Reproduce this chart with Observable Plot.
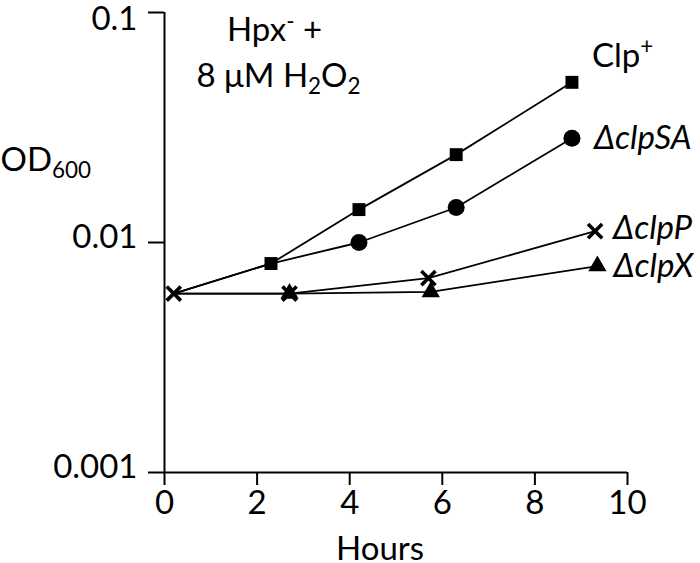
<!DOCTYPE html>
<html><head><meta charset="utf-8">
<script src="https://cdn.jsdelivr.net/npm/d3@7"></script>
<script src="https://cdn.jsdelivr.net/npm/@observablehq/plot@0.6"></script>
<style>body{margin:0;background:#fff;}</style>
</head><body><div id="chart"></div>
<script>
// ---- data ----
const seriesNames = ["Clp+", "ΔclpSA", "ΔclpP", "ΔclpX"];
const clpPlusHours = [0.2, 2.3, 4.2, 6.3, 8.8];
const clpPlusOD    = [0.006, 0.0081, 0.0139, 0.0241, 0.0497];
const clpSAHours   = [0.2, 2.3, 4.2, 6.3, 8.8];
const clpSAOD      = [0.006, 0.0081, 0.0100, 0.0142, 0.0284];
const clpPHours    = [0.2, 2.7, 5.7, 9.3];
const clpPOD       = [0.006, 0.006, 0.0070, 0.0112];
const clpXHours    = [0.2, 2.7, 5.75, 9.35];
const clpXOD       = [0.006, 0.006, 0.0061, 0.0079];
const seriesSymbols = ["square", "circle", "times", "triangle"];
const markerFrom = [1, 2, 0, 1]; // first point index that carries the series' own marker
const xTicks = [0, 2, 4, 6, 8, 10];
const yTicks = [0.1, 0.01, 0.001];
const titleLines = ["Hpx- +", "8 μM H2O2"];
const yLabel = "OD600";
const xLabel = "Hours";

// ---- build table ----
const hoursBySeries = [clpPlusHours, clpSAHours, clpPHours, clpXHours];
const odBySeries = [clpPlusOD, clpSAOD, clpPOD, clpXOD];
const points = [];
seriesNames.forEach((s, i) => hoursBySeries[i].forEach((h, j) =>
  points.push({series: s, hours: h, od: odBySeries[i][j], symbol: seriesSymbols[i], marker: j >= markerFrom[i]})));
const markers = points.filter(p => p.marker);
const lastOf = s => points.filter(p => p.series === s).slice(-1);

const labelOffsets = [
  {dx: 20, dy: -26, italic: false},
  {dx: 22, dy: 0, italic: true},
  {dx: 18, dy: -3, italic: true},
  {dx: 16, dy: 0, italic: true}
];

const FS = 33;
const chart = Plot.plot({
  width: 700, height: 563,
  marginLeft: 164, marginRight: 73, marginTop: 12, marginBottom: 91,
  x: {domain: [0, 10]},
  y: {type: "log", domain: [0.001, 0.1]},
  style: {fontFamily: "Lato, 'Open Sans', sans-serif", fontSize: FS + "px", color: "black", background: "white", overflow: "visible"},
  marks: [
    Plot.ruleX([0], {y1: 0.001, y2: 0.1, strokeWidth: 2}),
    Plot.ruleY([0.001], {x1: 0, x2: 10, strokeWidth: 2}),
    Plot.axisX({ticks: xTicks, tickSize: 13, tickPadding: 5, strokeWidth: 2, label: null, tickFormat: d => String(d)}),
    Plot.axisY({ticks: yTicks, tickSize: 16, fill: "none", strokeWidth: 2, label: null}),
    Plot.axisY({ticks: yTicks.slice(1), tickSize: 16, tickPadding: 11, stroke: "none", dy: -5, label: null, tickFormat: d => String(d)}),
    Plot.axisY({ticks: yTicks.slice(0, 1), tickSize: 16, tickPadding: 11, stroke: "none", dy: 7, label: null, tickFormat: d => String(d)}),
    Plot.line(points, {x: "hours", y: "od", z: "series", stroke: "black", strokeWidth: 1.8}),
    Plot.dot(markers.filter(d => d.symbol === "square"), {x: "hours", y: "od", symbol: "square", fill: "black", r: 7.3}),
    Plot.dot(markers.filter(d => d.symbol === "circle"), {x: "hours", y: "od", symbol: "circle", fill: "black", r: 8.5}),
    Plot.dot(markers.filter(d => d.symbol === "triangle"), {x: "hours", y: "od", symbol: "triangle", fill: "black", r: 6.8}),
    Plot.dot(markers.filter(d => d.symbol === "times"), {x: "hours", y: "od", symbol: "times", stroke: "black", strokeWidth: 3.6, r: 6.5}),
    ...seriesNames.map((s, i) => Plot.text(lastOf(s), {x: "hours", y: "od", text: "series", textAnchor: "start", lineAnchor: "middle",
      dx: labelOffsets[i].dx, dy: labelOffsets[i].dy, fontStyle: labelOffsets[i].italic ? "italic" : "normal"})),
    Plot.text([titleLines[0]], {frameAnchor: "top-left", text: d => d, textAnchor: "middle", lineAnchor: "middle", dx: 110, dy: 18}),
    Plot.text([titleLines[1]], {frameAnchor: "top-left", text: d => d, textAnchor: "middle", lineAnchor: "middle", dx: 114, dy: 64}),
    Plot.text([yLabel], {frameAnchor: "top-left", text: d => d, textAnchor: "start", lineAnchor: "middle", dx: -164, dy: 148}),
    Plot.text([xLabel], {frameAnchor: "bottom", text: d => d, textAnchor: "middle", lineAnchor: "middle", dx: -16, dy: 77})
  ]
});
document.getElementById("chart").appendChild(chart);

// ---- rich text (sub/superscripts) ----
const rich = {
  "Hpx- +": [["Hpx"], ["-", "sup"], [" +"]],
  "8 μM H2O2": [["8 μM H"], ["2", "sub"], ["O"], ["2", "sub"]],
  "OD600": [["OD"], ["600", "sub"]],
  "Clp+": [["Clp"], ["+", "sup"]]
};
d3.select(chart).selectAll("text").each(function() {
  const el = d3.select(this);
  const parts = rich[this.textContent];
  if (!parts) return;
  el.text(null);
  let shift = 0;
  for (const [t, kind] of parts) {
    const ts = el.append("tspan").text(t);
    const target = kind === "sub" ? 0.22 * FS : kind === "sup" ? -0.38 * FS : 0;
    const move = target - shift;
    if (move !== 0) ts.attr("dy", move + "px");
    shift = target;
    if (kind) ts.attr("font-size", (0.68 * FS) + "px");
  }
});
</script></body></html>
